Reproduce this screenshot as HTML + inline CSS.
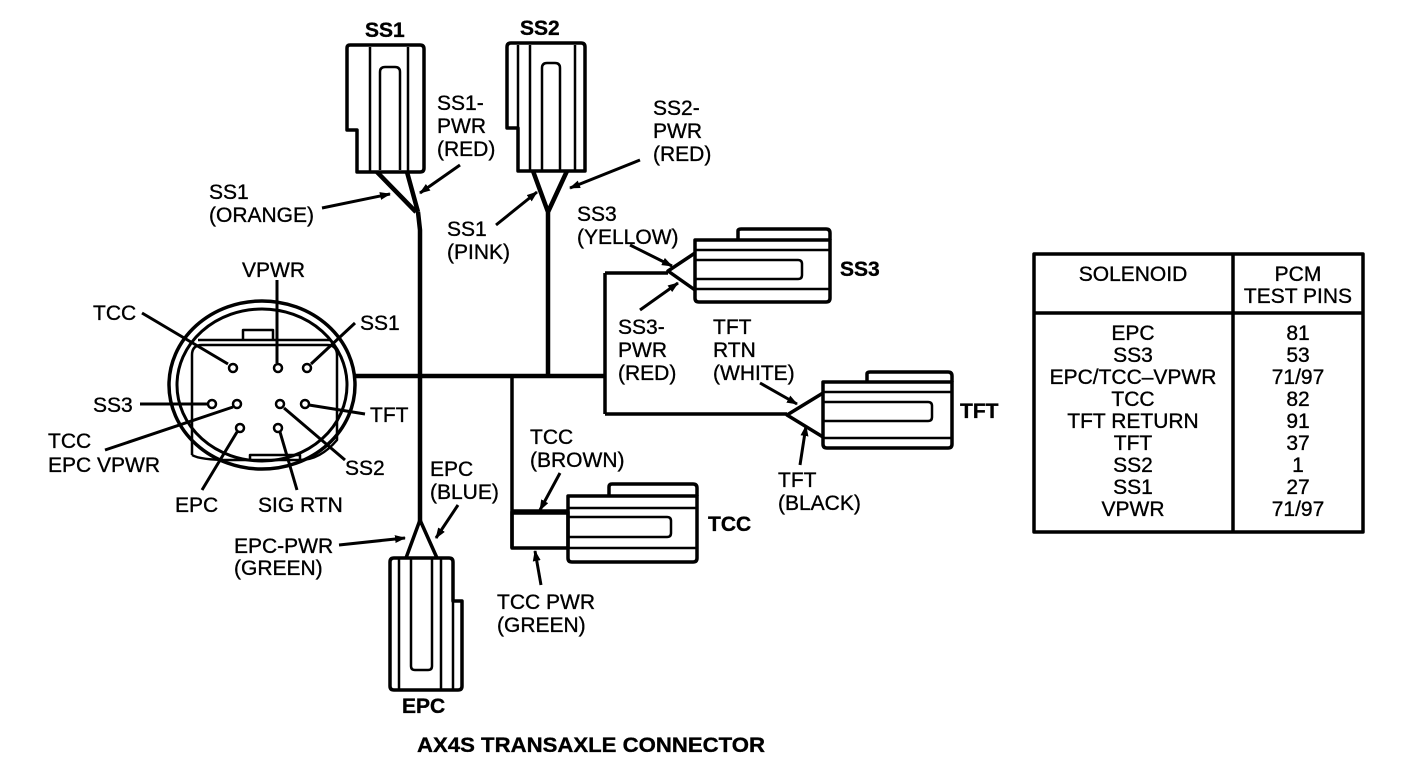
<!DOCTYPE html>
<html><head><meta charset="utf-8"><style>
html,body{margin:0;padding:0;background:#fff;}
svg{display:block;}
text{font-family:"Liberation Sans",Arial,sans-serif;font-size:21px;fill:#000;stroke:#000;stroke-width:0.35;}
.b{font-weight:bold;}
</style></head><body>
<svg width="1424" height="760" viewBox="0 0 1424 760" xmlns="http://www.w3.org/2000/svg">
<defs><marker id="ah" markerWidth="11" markerHeight="8" refX="10" refY="4" orient="auto" markerUnits="userSpaceOnUse"><path d="M0,0 L11,4 L0,8 Z" fill="#000"/></marker></defs>
<g fill="none" stroke="#000" stroke-width="3.5" stroke-linejoin="round">
<path d="M357,172 L357,130 L347,130 L347,48 Q347,45 350,45 L420,45 Q424,45 424,49 L424,168 Q424,172 420,172 Z"/>
<line x1="370" y1="47" x2="370" y2="171" stroke-width="2.5"/>
<line x1="408" y1="47" x2="408" y2="171" stroke-width="2.5"/>
<path d="M380,170 L380,72 Q380,67 385,67 L395,67 Q400,67 400,72 L400,170" stroke-width="2.5"/>
<path d="M377,172 L416,212 M407,172 L418,212 M418,212 L420,230 L420,525" stroke-width="4.5"/>
<path d="M518,171 L518,128 L507,128 L507,47 Q507,43 511,43 L581,43 Q585,43 585,47 L585,171 Z"/>
<line x1="518" y1="45" x2="518" y2="128" stroke-width="2.5"/>
<line x1="530" y1="45" x2="530" y2="170" stroke-width="2.5"/>
<line x1="575" y1="45" x2="575" y2="170" stroke-width="2.5"/>
<path d="M542,170 L542,68 Q542,63 547,63 L555,63 Q560,63 560,68 L560,170" stroke-width="2.5"/>
<path d="M533,171 L548,212 M567,171 L548,212 L548,376" stroke-width="4.5"/>
<path d="M355,376 L605,376" stroke-width="4.5"/>
<path d="M605,273 L605,414" stroke-width="3.5"/>
<path d="M605,273 L668,273 M605,414 L787,414" stroke-width="3.5"/>
<path d="M512,376 L512,548" stroke-width="3.5"/>
<path d="M695,240 L830,240 L830,298 Q830,302 826,302 L699,302 Q695,302 695,298 Z"/>
<path d="M738,240 L738,231 Q738,229 741,229 L826,229 Q830,229 830,233 L830,240"/>
<line x1="695" y1="250" x2="830" y2="250" stroke-width="2.5"/>
<line x1="695" y1="289" x2="830" y2="289" stroke-width="2.5"/>
<path d="M695,260 L798,260 Q802,260 802,264 L802,275 Q802,279 798,279 L695,279" stroke-width="2.5"/>
<path d="M695,253 L668,271 L695,290" stroke-width="3.5"/>
<path d="M823,382 L952,382 L952,444 Q952,448 948,448 L827,448 Q823,448 823,444 Z"/>
<path d="M867,382 L867,374 Q867,372 870,372 L948,372 Q952,372 952,376 L952,382"/>
<line x1="823" y1="392" x2="952" y2="392" stroke-width="2.5"/>
<line x1="823" y1="438" x2="952" y2="438" stroke-width="2.5"/>
<path d="M823,402 L928,402 Q932,402 932,406 L932,417 Q932,421 928,421 L823,421" stroke-width="2.5"/>
<path d="M823,393 L787,415 L823,437" stroke-width="3.5"/>
<rect x="512" y="512" width="56" height="36"/>
<path d="M512,512 L568,512" stroke-width="5.5"/>
<path d="M568,496 L697,496 L697,558 Q697,562 693,562 L572,562 Q568,562 568,558 Z"/>
<path d="M609,496 L609,487 Q609,484 612,484 L693,484 Q697,484 697,488 L697,496"/>
<line x1="568" y1="508" x2="697" y2="508" stroke-width="2.5"/>
<line x1="568" y1="548" x2="697" y2="548" stroke-width="2.5"/>
<path d="M568,517 L667,517 Q671,517 671,521 L671,533 Q671,537 667,537 L568,537" stroke-width="2.5"/>
<path d="M390,562 Q390,558 394,558 L449,558 Q453,558 453,562 L453,601 L462,601 L462,686 Q462,690 458,690 L394,690 Q390,690 390,686 Z"/>
<line x1="453" y1="601" x2="453" y2="690" stroke-width="2.5"/>
<line x1="399" y1="559" x2="399" y2="689" stroke-width="2.5"/>
<line x1="441" y1="559" x2="441" y2="689" stroke-width="2.5"/>
<path d="M411,559 L411,666 Q411,670 415,670 L428,670 Q432,670 432,666 L432,559" stroke-width="2.5"/>
<path d="M420,520 L406,558 M420,520 L437,558" stroke-width="3.5"/>
<ellipse cx="262" cy="385" rx="93" ry="84"/>
<ellipse cx="262" cy="385" rx="85" ry="76" stroke-width="3"/>
<path d="M192,455 L192,355 Q192,345 202,345 L327,345 Q337,345 337,355 L337,440 Q320,460 300,460 L230,460 Q200,460 192,455" stroke-width="2.5"/>
<path d="M198,340 L330,340" stroke-width="2.5"/>
<path d="M243,340 L243,330 L273,330 L273,340" stroke-width="2.5"/>
<path d="M250,460 L250,455 L300,455 L300,460" stroke-width="2.5"/>
<g stroke-width="2.5">
<circle cx="233" cy="368" r="4"/><circle cx="278" cy="368" r="4"/><circle cx="307" cy="368" r="4"/>
<circle cx="212" cy="404" r="4"/><circle cx="237" cy="404" r="4"/><circle cx="280" cy="404" r="4"/><circle cx="305" cy="404" r="4"/>
<circle cx="240" cy="428" r="4"/><circle cx="278" cy="428" r="4"/>
</g>
<g stroke-width="3">
<line x1="142" y1="313" x2="228" y2="364"/>
<line x1="277" y1="280" x2="277" y2="363"/>
<line x1="355" y1="323" x2="311" y2="364"/>
<line x1="140" y1="404" x2="207" y2="404"/>
<line x1="105" y1="450" x2="233" y2="407"/>
<line x1="202" y1="490" x2="237" y2="432"/>
<line x1="297" y1="490" x2="280" y2="432"/>
<line x1="345" y1="460" x2="284" y2="408"/>
<line x1="365" y1="414" x2="309" y2="405"/>
</g>
<g stroke-width="3" marker-end="url(#ah)">
<line x1="460" y1="165" x2="420" y2="193"/>
<line x1="322" y1="208" x2="390" y2="194"/>
<line x1="640" y1="160" x2="570" y2="188"/>
<line x1="496" y1="225" x2="537" y2="192"/>
<line x1="630" y1="245" x2="672" y2="266"/>
<line x1="640" y1="310" x2="678" y2="283"/>
<line x1="760" y1="383" x2="797" y2="404"/>
<line x1="800" y1="465" x2="806" y2="426"/>
<line x1="458" y1="505" x2="436" y2="538"/>
<line x1="339" y1="545" x2="405" y2="538"/>
<line x1="560" y1="473" x2="540" y2="510"/>
<line x1="541" y1="585" x2="535" y2="551"/>
</g>
<rect x="1034" y="254" width="329" height="278" stroke-width="3.5"/>
<line x1="1034" y1="313" x2="1363" y2="313" stroke-width="3.5"/>
<line x1="1233" y1="254" x2="1233" y2="532" stroke-width="3.5"/>
</g>
<text class="b" x="365" y="37" font-size="20">SS1</text>
<text class="b" x="520" y="35" font-size="20">SS2</text>
<text x="437" y="110">SS1-</text><text x="437" y="133">PWR</text><text x="437" y="156">(RED)</text>
<text x="209" y="199">SS1</text><text x="209" y="222">(ORANGE)</text>
<text x="653" y="115">SS2-</text><text x="653" y="138">PWR</text><text x="653" y="161">(RED)</text>
<text x="447" y="236">SS1</text><text x="447" y="259">(PINK)</text>
<text x="577" y="221">SS3</text><text x="577" y="244">(YELLOW)</text>
<text class="b" x="840" y="276" font-size="20">SS3</text>
<text x="618" y="334">SS3-</text><text x="618" y="357">PWR</text><text x="618" y="380">(RED)</text>
<text x="713" y="334">TFT</text><text x="713" y="357">RTN</text><text x="713" y="380">(WHITE)</text>
<text class="b" x="960" y="418" font-size="20">TFT</text>
<text x="778" y="487">TFT</text><text x="778" y="510">(BLACK)</text>
<text x="530" y="444">TCC</text><text x="530" y="467">(BROWN)</text>
<text class="b" x="708" y="531" font-size="20">TCC</text>
<text x="497" y="609">TCC PWR</text><text x="497" y="632">(GREEN)</text>
<text x="430" y="476">EPC</text><text x="430" y="499">(BLUE)</text>
<text x="234" y="553">EPC-PWR</text><text x="234" y="575">(GREEN)</text>
<text class="b" x="402" y="713" font-size="18">EPC</text>
<text class="b" x="417" y="752" font-size="18" textLength="348" lengthAdjust="spacingAndGlyphs">AX4S TRANSAXLE CONNECTOR</text>
<text x="242" y="277">VPWR</text>
<text x="93" y="320">TCC</text>
<text x="360" y="330">SS1</text>
<text x="93" y="412">SS3</text>
<text x="370" y="422">TFT</text>
<text x="48" y="448">TCC</text><text x="48" y="472">EPC VPWR</text>
<text x="345" y="475">SS2</text>
<text x="175" y="512">EPC</text>
<text x="258" y="512">SIG RTN</text>
<g font-size="20.5" text-anchor="middle">
<text x="1133" y="281">SOLENOID</text>
<text x="1298" y="281">PCM</text><text x="1298" y="303">TEST PINS</text>
<text x="1133" y="340">EPC</text><text x="1298" y="340">81</text>
<text x="1133" y="362">SS3</text><text x="1298" y="362">53</text>
<text x="1133" y="384">EPC/TCC–VPWR</text><text x="1298" y="384">71/97</text>
<text x="1133" y="406">TCC</text><text x="1298" y="406">82</text>
<text x="1133" y="428">TFT RETURN</text><text x="1298" y="428">91</text>
<text x="1133" y="450">TFT</text><text x="1298" y="450">37</text>
<text x="1133" y="472">SS2</text><text x="1298" y="472">1</text>
<text x="1133" y="494">SS1</text><text x="1298" y="494">27</text>
<text x="1133" y="516">VPWR</text><text x="1298" y="516">71/97</text>
</g>
</svg>
</body></html>
